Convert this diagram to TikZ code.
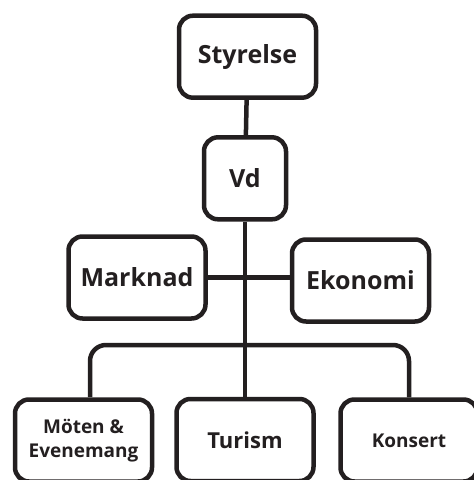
\documentclass[tikz,border=0pt]{standalone}
\usepackage{fontspec}
\setmainfont{Open Sans}
\definecolor{ink}{HTML}{231F20}
\tikzset{
  unit/.style={draw=ink, line width=4.5pt, rounded corners=14pt,
    minimum width=137pt, minimum height=82pt, inner sep=0pt,
    align=center, text=ink, font=\bfseries\fontsize{25}{28}\selectfont},
  sub/.style={unit, font=\bfseries\fontsize{19}{24}\selectfont},
  link/.style={draw=ink, line width=4.5pt}
}
\begin{document}
\begin{tikzpicture}[x=1pt,y=-1pt]
  \useasboundingbox (0,0) rectangle (474,480);
  % ledning
  \node[unit] (styrelse) at (247.5,56.7) {Styrelse};
  \node[unit, minimum width=82pt] (vd) at (245,178.3) {Vd};
  % avdelningar
  \node[unit] (marknad) at (137,277.5) {Marknad};
  \node[unit] (ekonomi) at (360.5,280.5) {Ekonomi};
  % verksamheter
  \node[sub] (moten) at (83.5,440.5) {Möten \&\\Evenemang};
  \node[sub, font=\bfseries\fontsize{22}{26}\selectfont] (turism) at (245,440) {Turism};
  \node[sub] (konsert) at (409,440.5) {Konsert};
  \coordinate (mdrop) at (90,397);
  \coordinate (bus) at (247,345);

  \draw[link] (styrelse) -- (vd);
  \draw[link] (vd.south) -- (vd.south |- turism.north);
  \draw[link] (marknad.east) -- (marknad.east -| ekonomi.west);
  \draw[link, rounded corners=16pt] (mdrop) |- (bus) -| (konsert.north);
\end{tikzpicture}
\end{document}
